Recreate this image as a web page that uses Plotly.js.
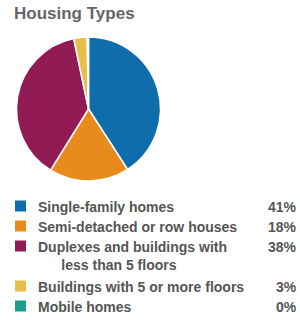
<!DOCTYPE html>
<html><head><meta charset="utf-8">
<script src="https://cdn.plot.ly/plotly-3.0.1.min.js"></script>
<style>html,body{margin:0;padding:0;background:#fff}#c{width:300px;height:320px}</style>
</head><body><div id="c"></div>
<script>
const categories = ["Single-family homes", "Semi-detached or row houses", "Duplexes and buildings with<br>\u00a0\u00a0\u00a0\u00a0\u00a0\u00a0less than 5 floors", "Buildings with 5 or more floors", "Mobile homes"];
const values = [41, 18, 38, 3, 0.3];
const colors = ["#0f6dab", "#e88a1c", "#921b55", "#e6bf48", "#16a08c"];
const rowY = [206, 226, 246, 286, 306];

const W = 300, H = 320;
const py = p => 1 - p / H;
const total = values.reduce((a, b) => a + b, 0);

const trace = {
  type: "pie", values: values, labels: categories, sort: false,
  direction: "clockwise", rotation: 0,
  marker: {colors: colors, line: {color: "#fff", width: 1.5}},
  textinfo: "none", hoverinfo: "none", showlegend: false,
  domain: {x: [16 / W, 161 / W], y: [py(181), py(37)]}
};

const font = {family: "Liberation Sans, Arial", size: 14, color: "#555", weight: "bold"};
const annotations = [], shapes = [];
categories.forEach((c, i) => {
  shapes.push({type: "rect", xref: "paper", yref: "paper", x0: 15 / W, x1: 26 / W,
    y0: py(rowY[i] + 5.5), y1: py(rowY[i] - 5.5), fillcolor: colors[i], line: {width: 0}});
  const multi = c.indexOf("<br>") >= 0;
  annotations.push({xref: "paper", yref: "paper", x: 36 / W, xanchor: "left", align: "left",
    y: multi ? py(rowY[i] - 9) : py(rowY[i] + 1), yanchor: multi ? "top" : "middle",
    text: c, showarrow: false, font: font});
  annotations.push({xref: "paper", yref: "paper", x: 299 / W, xanchor: "right",
    y: py(rowY[i] + 1), yanchor: "middle", text: Math.round(values[i] / total * 100) + "%",
    showarrow: false, font: font});
});

Plotly.newPlot("c", [trace], {
  width: W, height: H, margin: {l: 0, r: 0, t: 0, b: 0},
  paper_bgcolor: "#fff",
  title: {text: "Housing Types", x: 14 / W, xanchor: "left", xref: "paper", yref: "container",
    y: 1 - 13 / H, yanchor: "middle", font: {family: "Liberation Sans, Arial", size: 17, color: "#666", weight: "bold"}},
  annotations: annotations, shapes: shapes
}, {staticPlot: true});
</script></body></html>
